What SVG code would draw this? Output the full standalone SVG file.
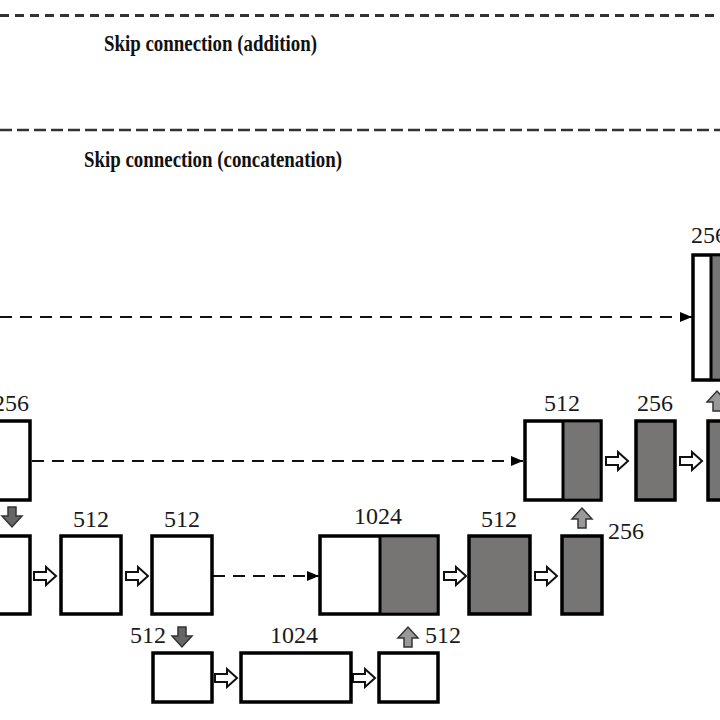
<svg xmlns="http://www.w3.org/2000/svg" width="720" height="720" viewBox="0 0 720 720">
<style>
.box{fill:#fff;stroke:#000;stroke-width:3.5}
.g{fill:#777474}
.div{stroke:#000;stroke-width:3}
.lbl{font-family:"Liberation Serif","Times New Roman",serif;font-size:24px;fill:#1a1a1a}
.hd{font-family:"Liberation Serif","Times New Roman",serif;font-size:24px;font-weight:bold;fill:#111}
.skip{fill:none;stroke:#111;stroke-width:2;stroke-dasharray:12 8}
.ha{fill:#fff;stroke:#111;stroke-width:2;stroke-linejoin:miter}
.da{fill:#666;stroke:#333;stroke-width:1.5}
.ua{fill:#999;stroke:#333;stroke-width:1.5}
</style>
<defs>
<marker id="tri" viewBox="0 0 12 10" refX="12" refY="5" markerWidth="12" markerHeight="10" markerUnits="userSpaceOnUse" orient="auto">
<path d="M0,0 L12,5 L0,10 Z" fill="#000"/>
</marker>
<path id="hollow" class="ha" d="M0,-4 L12,-4 L12,-9 L22,0 L12,9 L12,4 L0,4 Z"/>
<path id="down" class="da" d="M-4,0 L4,0 L4,9 L10,9 L0,20 L-10,9 L-4,9 Z"/>
<path id="up" class="ua" d="M-4,20 L4,20 L4,11 L10,11 L0,0 L-10,11 L-4,11 Z"/>
</defs>
<rect width="720" height="720" fill="#fff"/>

<g id="legend">
<line x1="0" y1="15.5" x2="720" y2="15.5" stroke="#333" stroke-width="3" stroke-dasharray="9 6"/>
<text class="hd" x="104" y="51" textLength="213" lengthAdjust="spacingAndGlyphs">Skip connection (addition)</text>
<line x1="0" y1="130" x2="720" y2="130" stroke="#333" stroke-width="2.6" stroke-dasharray="12 5"/>
<text class="hd" x="84" y="167" textLength="258" lengthAdjust="spacingAndGlyphs">Skip connection (concatenation)</text>
</g>

<g id="connectors">
<line class="skip" x1="0" y1="317" x2="692" y2="317" marker-end="url(#tri)"/>
<line class="skip" x1="32" y1="461" x2="523" y2="461" marker-end="url(#tri)"/>
<line class="skip" x1="213" y1="576" x2="319" y2="576" marker-end="url(#tri)"/>
<use href="#hollow" x="34" y="576"/>
<use href="#hollow" x="126" y="576"/>
<use href="#hollow" x="444" y="576"/>
<use href="#hollow" x="535" y="576"/>
<use href="#hollow" x="606" y="461"/>
<use href="#hollow" x="680" y="461"/>
<use href="#hollow" x="215" y="678"/>
<use href="#hollow" x="353" y="678"/>
<use href="#down" x="12" y="507"/>
<use href="#down" x="182" y="627"/>
<use href="#up" x="408" y="627"/>
<use href="#up" x="582" y="508"/>
<use href="#up" x="717" y="391"/>
</g>

<g id="n-top-concat">
<rect class="box" x="693" y="255" width="40" height="125"/>
<rect class="g" x="711" y="256.75" width="22" height="121.5"/>
<line class="div" x1="711" y1="255" x2="711" y2="380"/>
<text class="lbl" x="691" y="243">256</text>
</g>

<g id="n-b-left">
<rect class="box" x="-5" y="421" width="35" height="79"/>
<text class="lbl" x="29" y="411" text-anchor="end">256</text>
</g>
<g id="n-b-concat">
<rect class="box" x="525" y="421" width="76" height="79"/>
<rect class="g" x="563" y="422.75" width="36.25" height="75.5"/>
<line class="div" x1="563" y1="421" x2="563" y2="500"/>
<text class="lbl" x="562" y="411" text-anchor="middle">512</text>
</g>
<g id="n-b-256">
<rect class="box" x="636" y="421" width="39" height="79" style="fill:#777474"/>
<text class="lbl" x="655" y="411" text-anchor="middle">256</text>
</g>
<g id="n-b-right">
<rect class="box" x="708" y="421" width="25" height="79" style="fill:#777474"/>
</g>

<g id="n-c-left">
<rect class="box" x="-5" y="536" width="35" height="78"/>
</g>
<g id="n-c-512a">
<rect class="box" x="61" y="536" width="60" height="78"/>
<text class="lbl" x="91" y="527" text-anchor="middle">512</text>
</g>
<g id="n-c-512b">
<rect class="box" x="152" y="536" width="60" height="78"/>
<text class="lbl" x="182" y="527" text-anchor="middle">512</text>
</g>
<g id="n-c-1024">
<rect class="box" x="320" y="536" width="118" height="78"/>
<rect class="g" x="380" y="537.75" width="56.25" height="74.5"/>
<line class="div" x1="380" y1="536" x2="380" y2="614"/>
<text class="lbl" x="378" y="524" text-anchor="middle">1024</text>
</g>
<g id="n-c-512g">
<rect class="box" x="469" y="536" width="61" height="78" style="fill:#777474"/>
<text class="lbl" x="499" y="527" text-anchor="middle">512</text>
</g>
<g id="n-c-256g">
<rect class="box" x="562" y="536" width="40" height="78" style="fill:#777474"/>
<text class="lbl" x="608" y="539">256</text>
</g>

<g id="n-d-512a">
<rect class="box" x="153" y="653" width="59" height="49"/>
<text class="lbl" x="166" y="643" text-anchor="end">512</text>
</g>
<g id="n-d-1024">
<rect class="box" x="241" y="653" width="110" height="49"/>
<text class="lbl" x="294" y="643" text-anchor="middle">1024</text>
</g>
<g id="n-d-512b">
<rect class="box" x="379" y="653" width="59" height="49"/>
<text class="lbl" x="425" y="643">512</text>
</g>
</svg>
